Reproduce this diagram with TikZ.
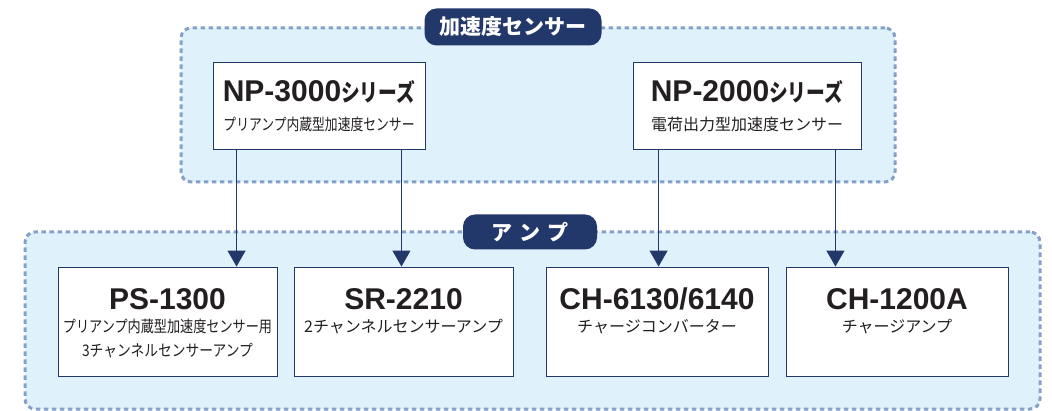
\documentclass[tikz,border=0pt]{standalone}
\usepackage{graphicx}
\usepackage{fontspec}
\setmainfont{Liberation Sans}
\newfontfamily\jp{Noto Sans CJK JP}
\usetikzlibrary{arrows.meta,positioning,calc}

\definecolor{navy}{HTML}{23386A}
\definecolor{paleblue}{HTML}{DFF1FA}
\definecolor{dashblue}{HTML}{86A1C7}
\definecolor{ink}{HTML}{231F20}

\newcommand{\series}{{\jp\bfseries\fontsize{24}{26}\selectfont\scalebox{0.78}[1]{シリーズ}}}

\begin{document}
\begin{tikzpicture}[x=1pt, y=-1pt,
    group/.style={draw=dashblue, fill=paleblue, dash pattern=on 4.5pt off 3.5pt, line width=3pt, rounded corners=10pt, inner sep=0pt},
    tag/.style={fill=navy, rounded corners=12pt, text=white, font=\jp\bfseries\fontsize{21}{24}\selectfont, inner sep=0pt},
    unit/.style={draw=navy, fill=white, line width=0.9pt, inner sep=0pt},
    model/.style={font=\bfseries\fontsize{30}{32}\selectfont, text=ink, inner sep=0pt},
    remark/.style={font=\jp\fontsize{16}{24}\selectfont, text=ink, align=center, inner sep=0pt},
    arr/.style={draw=navy, line width=1.1pt, -{Triangle[width=18pt,length=16pt]}}
]
    \useasboundingbox (0,0) rectangle (1052,411);

    % Groups
    \node[group, minimum width=714pt, minimum height=154pt] (sensors) at (538,105) {};
    \node[group, minimum width=1015pt, minimum height=177pt] (amps) at (532.5,320.5) {};
    \node[tag, minimum width=177pt, minimum height=37pt] (sensortag) at (513,27) {加速度センサー};
    \node[tag, minimum width=134pt, minimum height=35pt] (amptag) at (530,232) {ア\hspace{0.35em}ン\hspace{0.35em}プ};

    % Sensors
    \node[unit, minimum width=212pt, minimum height=87pt] (np3) at (319,105.5) {};
    \node[unit, minimum width=228pt, minimum height=87pt] (np2) at (747,105.5) {};
    \node[model, anchor=base] (np3name) at ([yshift=-40pt]np3.north) {NP-3000\series};
    \node[remark, anchor=base] (np3note) at ([yshift=-69pt]np3.north) {\scalebox{0.8}[1]{プリアンプ内蔵型加速度センサー}};
    \node[model, anchor=base] (np2name) at ([yshift=-40pt]np2.north) {NP-2000\series};
    \node[remark, anchor=base] (np2note) at ([yshift=-69pt]np2.north) {電荷出力型加速度センサー};

    % Amplifiers
    \node[unit, minimum width=219pt, minimum height=109pt] (ps) at (167.5,321.5) {};
    \node[unit, minimum width=219pt, minimum height=109pt] (sr) at (403.5,321.5) {};
    \node[unit, minimum width=222pt, minimum height=109pt] (ch6) at (657,321.5) {};
    \node[unit, minimum width=222pt, minimum height=109pt] (ch12) at (897,321.5) {};
    \node[model, anchor=base] (psname) at ([yshift=-43pt]ps.north) {PS-1300};
    \node[remark, anchor=base] (psnote) at ([yshift=-90pt]ps.north) {\scalebox{0.82}[1]{プリアンプ内蔵型加速度センサー用}\\\scalebox{0.86}[1]{3チャンネルセンサーアンプ}};
    \node[model, anchor=base] (srname) at ([yshift=-43pt]sr.north) {SR-2210};
    \node[remark, anchor=base] (srnote) at ([yshift=-66pt]sr.north) {2チャンネルセンサーアンプ};
    \node[model, anchor=base] (ch6name) at ([yshift=-43pt]ch6.north) {CH-6130/6140};
    \node[remark, anchor=base] (ch6note) at ([yshift=-66pt]ch6.north) {チャージコンバーター};
    \node[model, anchor=base] (ch12name) at ([yshift=-43pt]ch12.north) {CH-1200A};
    \node[remark, anchor=base] (ch12note) at ([yshift=-66pt]ch12.north) {チャージアンプ};

    % Connections
    \coordinate (s1) at ([xshift=24pt]np3.south west);
    \coordinate (s2) at ([xshift=-24pt]np3.south east);
    \coordinate (s3) at ([xshift=26pt]np2.south west);
    \coordinate (s4) at ([xshift=-26pt]np2.south east);
    \draw[arr] (s1) -- (s1 |- ps.north);
    \draw[arr] (s2) -- (s2 |- sr.north);
    \draw[arr] (s3) -- (s3 |- ch6.north);
    \draw[arr] (s4) -- (s4 |- ch12.north);
\end{tikzpicture}
\end{document}
